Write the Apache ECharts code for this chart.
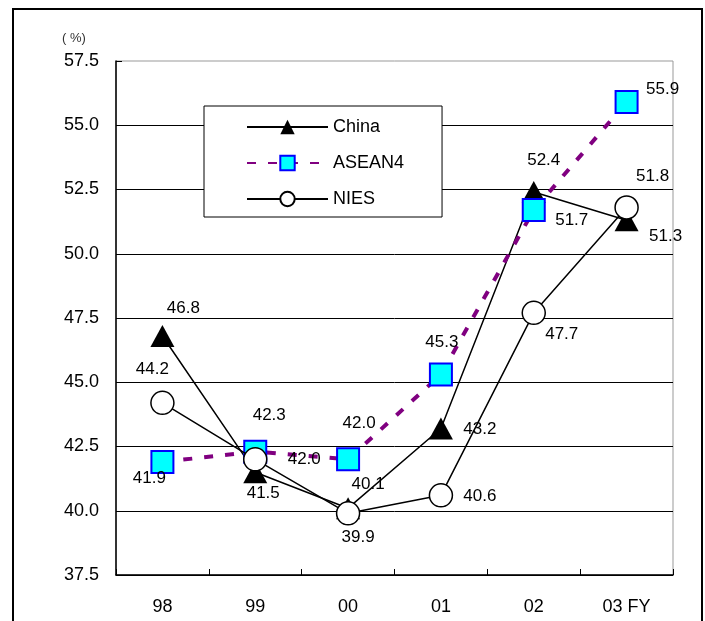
<!DOCTYPE html>
<html>
<head>
<meta charset="utf-8">
<script src="https://cdn.jsdelivr.net/npm/echarts@6/dist/echarts.min.js"></script>
<style>
  html, body { margin: 0; padding: 0; background: #fff; }
  #chart { width: 705px; height: 621px; }
</style>
</head>
<body>
<div id="chart"></div>
<script>
// Fiscal years on the category axis
const categories = ['98', '99', '00', '01', '02', '03 FY'];

// Shares by region (%)
const china  = [46.8, 41.5, 40.1, 43.2, 52.4, 51.3];
const asean4 = [41.9, 42.3, 42.0, 45.3, 51.7, 55.9];
const nies   = [44.2, 42.0, 39.9, 40.6, 47.7, 51.8];

// Value axis range
const yMin = 37.5;
const yMax = 57.5;
const yStep = 2.5;

// Where each value label sits relative to its marker, [dx, dy] in px
const chinaLabelOffset  = [[21, -28], [8, 21], [20, -24], [39, 1], [10, -32], [39, 16]];
const asean4LabelOffset = [[-13, 16], [14, -36], [11, -36], [1, -32], [38, 10], [36, -13]];
const niesLabelOffset   = [[-10, -33], [49, 0], [10, 24], [39, 1], [28, 21], [26, -31]];

const FONT = '"Liberation Sans", Arial, sans-serif';

function withLabels(values, offsets) {
  return values.map((v, i) => ({
    value: v,
    label: { offset: offsets[i] }
  }));
}

const valueLabel = {
  show: true,
  position: 'inside',
  fontSize: 17,
  fontFamily: FONT,
  color: '#000',
  formatter: p => p.value.toFixed(1)
};

const chart = echarts.init(document.getElementById('chart'), null, { renderer: 'canvas' });

chart.setOption({
  animation: false,
  backgroundColor: '#fff',
  graphic: [
    {
      type: 'rect',
      shape: { x: 13, y: 9, width: 689, height: 660 },
      style: { fill: 'none', stroke: '#000', lineWidth: 2 },
      silent: true,
      z: 0
    },
    {
      type: 'text',
      left: 62,
      top: 32,
      style: { text: '( %)', fontSize: 13, fontFamily: FONT, fill: '#333' },
      silent: true
    }
  ],
  grid: {
    left: 116,
    right: 32,
    top: 61,
    bottom: 46,
    show: true,
    borderColor: '#999',
    borderWidth: 1,
    backgroundColor: 'transparent'
  },
  legend: {
    orient: 'vertical',
    left: 204,
    top: 106,
    padding: [11, 38, 8, 42],
    itemGap: 16,
    itemWidth: 81,
    itemHeight: 18,
    backgroundColor: '#fff',
    borderColor: '#000',
    borderWidth: 1,
    textStyle: { fontSize: 18, fontFamily: FONT, color: '#000', lineHeight: 20 },
    data: ['China', 'ASEAN4', 'NIES']
  },
  xAxis: {
    type: 'category',
    data: categories,
    boundaryGap: true,
    axisLine: { lineStyle: { color: '#000', width: 1.5 } },
    axisTick: { show: true, inside: true, length: 6, lineStyle: { color: '#000' } },
    axisLabel: { fontSize: 18, fontFamily: FONT, color: '#000', margin: 23 },
    splitLine: { show: false }
  },
  yAxis: {
    type: 'value',
    min: yMin,
    max: yMax,
    interval: yStep,
    axisLine: { show: true, lineStyle: { color: '#000', width: 1.5 } },
    axisTick: { show: true, inside: true, length: 6, lineStyle: { color: '#000' } },
    axisLabel: {
      fontSize: 18, fontFamily: FONT, color: '#000', margin: 17,
      formatter: v => v.toFixed(1)
    },
    splitLine: { show: true, showMaxLine: false, lineStyle: { color: '#000', width: 1 } }
  },
  series: [
    {
      name: 'China',
      type: 'line',
      data: withLabels(china, chinaLabelOffset),
      symbol: 'triangle',
      symbolSize: [24, 22],
      itemStyle: { color: '#000' },
      lineStyle: { color: '#000', width: 1.5 },
      label: valueLabel,
      emphasis: { disabled: true },
      z: 2
    },
    {
      name: 'ASEAN4',
      type: 'line',
      data: withLabels(asean4, asean4LabelOffset),
      symbol: 'rect',
      symbolSize: 22,
      itemStyle: { color: '#00FFFF', borderColor: '#0000FF', borderWidth: 2 },
      lineStyle: { color: '#800080', width: 4, type: [9, 12] },
      label: valueLabel,
      emphasis: { disabled: true },
      z: 3
    },
    {
      name: 'NIES',
      type: 'line',
      data: withLabels(nies, niesLabelOffset),
      symbol: 'circle',
      symbolSize: 23,
      itemStyle: { color: '#fff', borderColor: '#000', borderWidth: 1.5 },
      lineStyle: { color: '#000', width: 1.5 },
      label: valueLabel,
      emphasis: { disabled: true },
      z: 4
    }
  ]
});
</script>
</body>
</html>
